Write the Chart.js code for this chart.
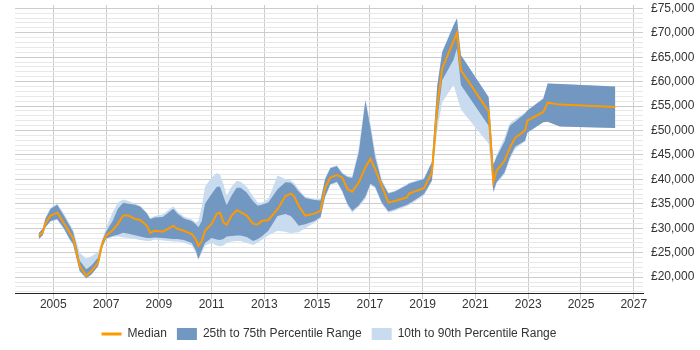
<!DOCTYPE html>
<html lang="en">
<head>
  <meta charset="UTF-8" />
  <title>Salary trend</title>
  <script src="https://cdn.jsdelivr.net/npm/chart.js"></script>
  <style>
    html, body { margin: 0; padding: 0; background: #fff; }
    #wrap { width: 700px; height: 350px; }
  </style>
</head>
<body>
  <div id="wrap"><canvas id="salaryChart"></canvas></div>

  <script>
    // time points (decimal years) shared by all series
    const years = [2004.45, 2004.6, 2004.7, 2004.9, 2005.15, 2005.4, 2005.6, 2005.75, 2005.9, 2006.0,
      2006.25, 2006.45, 2006.7, 2006.85, 2007.0, 2007.25, 2007.45, 2007.65, 2007.85, 2008.1,
      2008.3, 2008.55, 2008.67, 2008.85, 2009.15, 2009.55, 2009.7, 2009.95, 2010.25, 2010.4,
      2010.5, 2010.63, 2010.75, 2011.0, 2011.2, 2011.32, 2011.45, 2011.57, 2011.76, 2011.95,
      2012.1, 2012.33, 2012.58, 2012.75, 2012.9, 2013.15, 2013.5, 2013.8, 2014.0, 2014.12,
      2014.3, 2014.55, 2014.9, 2015.13, 2015.3, 2015.5, 2015.75, 2015.95, 2016.15, 2016.33,
      2016.58, 2016.83, 2017.02, 2017.2, 2017.45, 2017.7, 2017.95, 2018.4, 2018.48, 2019.05,
      2019.35, 2019.55, 2019.74, 2020.17, 2020.3, 2020.45, 2021.5, 2021.68, 2021.8, 2022.1,
      2022.3, 2022.5, 2022.88, 2022.97, 2023.57, 2023.74, 2024.2, 2026.3];

    const median = [28400, 29200, 31000, 32600, 33200, 31100, 29300, 28000, 24700, 22300,
      20300, 21300, 23000, 26700, 28500, 29600, 30900, 32600, 32600, 31900,
      31700, 30500, 29100, 29500, 29300, 30500, 29900, 29500, 28800, 27800,
      26400, 27400, 29500, 30900, 33000, 33200, 31200, 30700, 32600, 33700,
      33300, 32600, 30900, 30800, 31500, 31700, 33900, 36600, 37100, 36600,
      34600, 32600, 33000, 33600, 38300, 40400, 40900, 40400, 38000, 37500,
      39400, 42500, 44200, 42100, 38700, 35300, 35600, 36300, 37100, 38200,
      41400, 54800, 62700, 68300, 70000, 62300, 53900, 39500, 41800, 43800,
      46400, 48500, 50000, 52000, 53800, 55700, 55300, 54800];

    const p10 = [27700, 28500, 30100, 31400, 31700, 29900, 27800, 26600, 23300, 21200,
      19700, 20500, 22200, 25900, 27700, 28200, 28300, 28100, 28000, 27800,
      27600, 27400, 27400, 27700, 27500, 27300, 27300, 27100, 26500, 25000,
      23500, 25000, 26500, 27000, 26500, 26300, 26500, 27000, 27300, 27400,
      27400, 27000, 26600, 27100, 27600, 28500, 29500, 29300, 29000, 29100,
      29200, 30000, 31200, 32000, 36200, 38800, 39300, 37400, 34700, 33200,
      34400, 36000, 38800, 38200, 35000, 33200, 33600, 34500, 34700, 36700,
      39600, 50000, 55800, 59300, 57000, 54300, 47300, 37300, 39200, 41000,
      44000, 46200, 47800, 49500, 51700, 51800, 50800, 50500];

    const p25 = [27800, 28600, 30200, 31500, 31900, 30000, 28000, 26800, 23500, 21300,
      19800, 20600, 22300, 26000, 27900, 28400, 28700, 29100, 28900, 28600,
      28300, 28000, 28000, 28100, 28000, 27800, 27800, 27600, 27000, 25500,
      23700, 25500, 27000, 28000, 27700, 27600, 27800, 28300, 28400, 28500,
      28500, 28200, 27400, 27800, 28300, 29500, 32500, 32900, 32500, 31800,
      30500, 30800, 31500, 32300, 36500, 39000, 39500, 37700, 35000, 33600,
      34700, 36500, 39100, 38500, 35300, 33500, 33900, 34800, 35000, 37000,
      39800, 52000, 60300, 64500, 66800, 59300, 51000, 37400, 39400, 41400,
      44500, 46700, 47900, 49600, 51700, 51800, 50800, 50500];

    const p75 = [29000, 29900, 31900, 34000, 34800, 32600, 30700, 29300, 26000, 23400,
      21600, 22400, 24000, 27400, 29300, 31500, 34000, 35200, 35000, 34800,
      34400, 33000, 31900, 32200, 32300, 34000, 33000, 32000, 31500, 30800,
      30200, 31500, 35000, 37000, 38500, 38500, 36500, 34700, 36700, 38300,
      38300, 37300, 35500, 34600, 34800, 35300, 38000, 39400, 39300, 38800,
      37500, 36200, 35800, 35700, 40000, 42300, 42700, 41200, 40500, 40300,
      45500, 56100, 50500, 44500, 39500, 37100, 37500, 38800, 39100, 40100,
      43500, 59000, 66000, 71500, 72900, 65400, 56800, 43000, 44600, 47700,
      51000, 51800, 53500, 54100, 56500, 59600, 59500, 59000];

    const p90 = [29100, 30000, 32100, 34200, 35000, 33000, 31200, 29800, 27000, 25000,
      23800, 24300, 25200, 27600, 30000, 33300, 35300, 35900, 35600, 35000,
      34600, 33200, 32100, 32500, 32800, 34500, 33500, 32400, 31800, 31200,
      31500, 34500, 38500, 40400, 41300, 41000, 39000, 36700, 38500, 39700,
      39500, 38500, 36500, 35300, 35200, 36000, 40800, 40100, 39800, 39300,
      38000, 36500, 36000, 36000, 40300, 42500, 42900, 41400, 40700, 40600,
      46500, 56500, 51500, 45500, 40000, 37300, 37700, 39000, 39300, 40300,
      43700, 59200, 66200, 71600, 73000, 65500, 56900, 43100, 45000, 48500,
      51500, 52300, 53700, 54200, 56600, 59600, 59500, 59000];

    const yearTicks = [2005, 2007, 2009, 2011, 2013, 2015, 2017, 2019, 2021, 2023, 2025, 2027];
    const salaryTicks = [];
    for (let v = 17000; v <= 75000; v += 1000) salaryTicks.push(v);

    const pts = arr => arr.map((v, i) => ({ x: years[i], y: v }));

    const darkBand = "rgb(114,151,192)";
    const lightBand = "rgb(201,219,238)";
    const font = { family: "Arial, 'Liberation Sans', sans-serif", size: 12 };

    new Chart(document.getElementById("salaryChart"), {
      type: "line",
      data: {
        datasets: [
          { label: "Median", data: pts(median), borderColor: "#ff9900", backgroundColor: "#ff9900",
            borderWidth: 2, fill: false, pointStyle: "line" },
          { label: "25th to 75th Percentile Range", data: pts(p75), borderWidth: 0,
            backgroundColor: darkBand, borderColor: darkBand, fill: "+1", pointStyle: "rect" },
          { label: "", data: pts(p25), borderWidth: 0, backgroundColor: darkBand, fill: false },
          { label: "10th to 90th Percentile Range", data: pts(p90), borderWidth: 0,
            backgroundColor: lightBand, borderColor: lightBand, fill: "+1", pointStyle: "rect" },
          { label: "", data: pts(p10), borderWidth: 0, backgroundColor: lightBand, fill: false }
        ]
      },
      options: {
        responsive: true,
        maintainAspectRatio: false,
        animation: false,
        elements: { point: { radius: 0 }, line: { tension: 0 } },
        layout: { padding: { left: 15, top: 5, right: 0, bottom: 0 } },
        plugins: {
          tooltip: { enabled: false },
          legend: {
            position: "bottom",
            fullSize: false,
            labels: {
              font: font,
              color: "#333",
              usePointStyle: true,
              pointStyleWidth: 20,
              boxHeight: 12,
              padding: 10,
              filter: item => item.text !== "",
              generateLabels: chart => {
                const items = Chart.defaults.plugins.legend.labels.generateLabels(chart);
                items.forEach(it => { if (it.text === "Median") it.lineWidth = 3; });
                return items;
              }
            }
          }
        },
        scales: {
          x: {
            type: "linear",
            min: 2003.55,
            max: 2027.35,
            afterBuildTicks: s => { s.ticks = yearTicks.map(v => ({ value: v })); },
            afterFit: s => { s.height = 25; s.paddingLeft = 0; s.paddingRight = 0; },
            grid: { color: "#cccccc", tickLength: 6 },
            border: { color: "#222", width: 1 },
            ticks: { font: font, color: "#333", padding: -2, maxRotation: 0, autoSkip: false,
              callback: v => String(v) }
          },
          y: {
            position: "right",
            min: 16760,
            max: 75680,
            afterBuildTicks: s => { s.ticks = salaryTicks.map(v => ({ value: v })); },
            afterFit: s => { s.width = 57; s.paddingTop = 0; s.paddingBottom = 0; },
            grid: {
              drawTicks: false,
              color: c => (c.tick && c.tick.value % 5000 === 0) ? "#cccccc" : "#e8e8e8"
            },
            border: { display: false },
            ticks: {
              font: font, color: "#333", padding: 8, autoSkip: false,
              callback: v => v % 5000 === 0 ? "£" + v.toLocaleString("en-GB") : ""
            }
          }
        }
      }
    });
  </script>
</body>
</html>
